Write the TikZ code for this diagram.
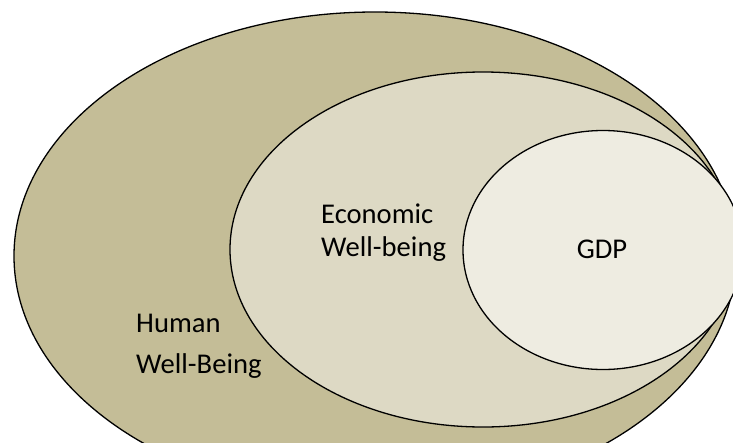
\documentclass[tikz,border=0pt]{standalone}
\usepackage{fontspec}
\setmainfont{Carlito}
\usetikzlibrary{shapes.geometric}
\definecolor{outerfill}{HTML}{C4BD97}
\definecolor{midfill}{HTML}{DDD9C4}
\definecolor{innerfill}{HTML}{EEECE1}
\begin{document}
\begin{tikzpicture}[x=1pt,y=-1pt,
  region/.style={ellipse, draw=black, line width=1.3pt, inner sep=0pt},
  lbl/.style={anchor=base west, inner sep=0pt, font=\fontsize{28.6}{34}\selectfont}]
  \useasboundingbox (0,0) rectangle (733,442);
  \clip (0,0) rectangle (733,442);
  % nested regions
  \node[region, fill=outerfill, minimum width=722pt, minimum height=488pt] (hwb) at (375,256) {};
  \node[region, fill=midfill, minimum width=506pt, minimum height=355pt] (ewb) at (483,249.5) {};
  \node[region, fill=innerfill, minimum width=280pt, minimum height=239pt] (gdp) at (603,250) {};
  % labels
  \node[lbl] (hwb1) at (136,332) {Human};
  \node[lbl] (hwb2) at (136,373) {Well-Being};
  \node[lbl] (ewb1) at (321,223) {Economic};
  \node[lbl] (ewb2) at (321,256) {Well-being};
  \node[lbl, anchor=base] (gdpl) at (602,258) {GDP};
\end{tikzpicture}
\end{document}
